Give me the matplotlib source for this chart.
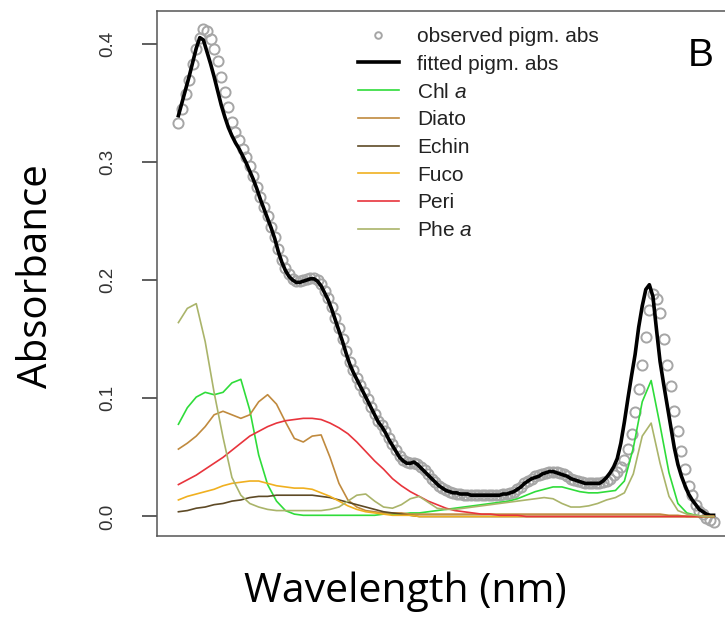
import numpy as np
import matplotlib
matplotlib.use('Agg')
import matplotlib.pyplot as plt

# wavelength grids (nm)
wl_obs = np.arange(400, 701, 2)
wl_pig = np.arange(400, 701, 5)

observed = [0.333, 0.345, 0.357, 0.369, 0.383, 0.395, 0.405, 0.412, 0.411, 0.404,
            0.395, 0.385, 0.372, 0.359, 0.346, 0.334, 0.325, 0.318, 0.311, 0.304,
            0.296, 0.288, 0.279, 0.270, 0.262, 0.254, 0.245, 0.236, 0.226, 0.217,
            0.210, 0.205, 0.201, 0.199, 0.199, 0.200, 0.201, 0.202, 0.202, 0.200,
            0.197, 0.191, 0.185, 0.177, 0.168, 0.159, 0.150, 0.140, 0.131, 0.124,
            0.117, 0.111, 0.105, 0.099, 0.093, 0.087, 0.081, 0.077, 0.072, 0.066,
            0.061, 0.056, 0.051, 0.048, 0.046, 0.045, 0.045, 0.044, 0.042, 0.039,
            0.036, 0.032, 0.029, 0.026, 0.024, 0.022, 0.021, 0.020, 0.019, 0.019,
            0.018, 0.018, 0.018, 0.018, 0.018, 0.018, 0.018, 0.018, 0.018, 0.018,
            0.018, 0.019, 0.019, 0.020, 0.021, 0.023, 0.025, 0.028, 0.030, 0.032,
            0.034, 0.035, 0.036, 0.037, 0.038, 0.038, 0.038, 0.037, 0.036, 0.034,
            0.032, 0.031, 0.030, 0.029, 0.028, 0.028, 0.028, 0.028, 0.028, 0.029,
            0.030, 0.032, 0.035, 0.038, 0.042, 0.048, 0.057, 0.070, 0.088, 0.108,
            0.128, 0.152, 0.175, 0.188, 0.184, 0.172, 0.150, 0.128, 0.110, 0.089,
            0.072, 0.055, 0.040, 0.026, 0.018, 0.010, 0.005, 0.002, -0.001, -0.003,
            -0.005]

fitted = [0.339, 0.350, 0.361, 0.372, 0.384, 0.396, 0.405, 0.403, 0.393, 0.383,
          0.372, 0.360, 0.348, 0.338, 0.329, 0.322, 0.316, 0.311, 0.305, 0.299,
          0.292, 0.285, 0.277, 0.268, 0.260, 0.252, 0.244, 0.235, 0.224, 0.215,
          0.208, 0.203, 0.200, 0.198, 0.198, 0.199, 0.200, 0.201, 0.201, 0.199,
          0.195, 0.189, 0.183, 0.175, 0.166, 0.157, 0.148, 0.138, 0.129, 0.122,
          0.116, 0.110, 0.104, 0.098, 0.092, 0.086, 0.080, 0.076, 0.071, 0.065,
          0.060, 0.055, 0.050, 0.047, 0.045, 0.045, 0.046, 0.044, 0.041, 0.038,
          0.035, 0.032, 0.029, 0.026, 0.024, 0.022, 0.021, 0.020, 0.020, 0.019,
          0.019, 0.019, 0.018, 0.018, 0.018, 0.018, 0.018, 0.018, 0.018, 0.018,
          0.018, 0.019, 0.019, 0.020, 0.021, 0.023, 0.025, 0.028, 0.030, 0.032,
          0.033, 0.034, 0.036, 0.037, 0.038, 0.038, 0.037, 0.036, 0.035, 0.034,
          0.032, 0.031, 0.030, 0.029, 0.028, 0.028, 0.028, 0.028, 0.028, 0.030,
          0.033, 0.037, 0.042, 0.049, 0.062, 0.080, 0.100, 0.119, 0.137, 0.160,
          0.178, 0.192, 0.196, 0.186, 0.158, 0.131, 0.112, 0.094, 0.076, 0.058,
          0.044, 0.034, 0.026, 0.019, 0.014, 0.010, 0.006, 0.004, 0.002, 0.001,
          0.001]

chl_a = [0.078, 0.092, 0.101, 0.105, 0.103, 0.105, 0.113, 0.116, 0.090, 0.052,
         0.027, 0.013, 0.005, 0.002, 0.001, 0.001, 0.001, 0.001, 0.001, 0.001,
         0.001, 0.001, 0.001, 0.002, 0.002, 0.002, 0.003, 0.003, 0.004, 0.005,
         0.006, 0.007, 0.008, 0.009, 0.010, 0.011, 0.012, 0.013, 0.015, 0.018,
         0.021, 0.023, 0.025, 0.025, 0.023, 0.021, 0.020, 0.020, 0.021, 0.022,
         0.030, 0.058, 0.097, 0.115, 0.077, 0.037, 0.011, 0.003, 0.001, 0.000,
         0.000]

diato = [0.057, 0.062, 0.068, 0.076, 0.086, 0.089, 0.086, 0.083, 0.086, 0.097,
         0.103, 0.095, 0.080, 0.066, 0.063, 0.068, 0.069, 0.050, 0.028, 0.014,
         0.008, 0.005, 0.004, 0.003, 0.003, 0.003, 0.002, 0.002, 0.002, 0.002,
         0.002, 0.002, 0.002, 0.002, 0.002, 0.002, 0.002, 0.002, 0.002, 0.002,
         0.002, 0.002, 0.002, 0.002, 0.002, 0.002, 0.002, 0.002, 0.002, 0.002,
         0.002, 0.002, 0.002, 0.002, 0.002, 0.001, 0.001, 0.000, 0.000, 0.000,
         0.000]

echin = [0.004, 0.005, 0.007, 0.008, 0.010, 0.011, 0.013, 0.014, 0.016, 0.017,
         0.017, 0.018, 0.018, 0.018, 0.018, 0.018, 0.017, 0.016, 0.014, 0.012,
         0.010, 0.008, 0.006, 0.004, 0.003, 0.002, 0.001, 0.000, 0.000, 0.000,
         0.000, 0.000, 0.000, 0.000, 0.000, 0.000, 0.000, 0.000, 0.000, 0.000,
         0.000, 0.000, 0.000, 0.000, 0.000, 0.000, 0.000, 0.000, 0.000, 0.000,
         0.000, 0.000, 0.000, 0.000, 0.000, 0.000, 0.000, 0.000, 0.000, 0.000,
         0.000]

fuco = [0.014, 0.017, 0.019, 0.021, 0.023, 0.026, 0.028, 0.029, 0.030, 0.030,
        0.028, 0.026, 0.025, 0.024, 0.024, 0.023, 0.020, 0.017, 0.013, 0.009,
        0.006, 0.004, 0.003, 0.002, 0.001, 0.001, 0.001, 0.000, 0.000, 0.000,
        0.000, 0.000, 0.000, 0.000, 0.000, 0.000, 0.000, 0.000, 0.000, 0.000,
        0.000, 0.000, 0.000, 0.000, 0.000, 0.000, 0.000, 0.000, 0.000, 0.000,
        0.000, 0.000, 0.000, 0.000, 0.000, 0.000, 0.000, 0.000, 0.000, 0.000,
        0.000]

peri = [0.027, 0.031, 0.035, 0.040, 0.045, 0.050, 0.056, 0.062, 0.068, 0.072,
        0.076, 0.079, 0.081, 0.082, 0.083, 0.083, 0.082, 0.079, 0.075, 0.070,
        0.063, 0.055, 0.047, 0.040, 0.032, 0.026, 0.021, 0.017, 0.013, 0.010,
        0.007, 0.005, 0.004, 0.003, 0.002, 0.002, 0.001, 0.001, 0.001, 0.000,
        0.000, 0.000, 0.000, 0.000, 0.000, 0.000, 0.000, 0.000, 0.000, 0.000,
        0.000, 0.000, 0.000, 0.000, 0.000, 0.000, 0.000, 0.000, 0.000, 0.000,
        0.000]

phe_a = [0.164, 0.176, 0.180, 0.148, 0.105, 0.067, 0.033, 0.018, 0.011, 0.008,
         0.006, 0.005, 0.005, 0.005, 0.005, 0.005, 0.005, 0.006, 0.008, 0.013,
         0.018, 0.019, 0.013, 0.008, 0.007, 0.010, 0.015, 0.017, 0.012, 0.007,
         0.006, 0.006, 0.007, 0.008, 0.009, 0.010, 0.011, 0.012, 0.013, 0.014,
         0.015, 0.016, 0.015, 0.011, 0.008, 0.008, 0.009, 0.011, 0.014, 0.016,
         0.020, 0.036, 0.068, 0.079, 0.045, 0.017, 0.005, 0.002, 0.001, 0.000,
         0.000]

pigments = [('Chl $\\it{a}$', chl_a, '#2fdc3a'),
            ('Diato', diato, '#c08a3e'),
            ('Echin', echin, '#5e4a26'),
            ('Fuco', fuco, '#f0b020'),
            ('Peri', peri, '#e8343c'),
            ('Phe $\\it{a}$', phe_a, '#aab46a')]

plt.rcParams['font.family'] = 'Liberation Sans'
plt.rcParams['mathtext.fontset'] = 'custom'
plt.rcParams['mathtext.it'] = 'Liberation Sans:italic'
plt.rcParams['mathtext.rm'] = 'Liberation Sans'

fig = plt.figure(figsize=(7.25, 6.18), dpi=100)
ax = fig.add_axes((157/725, 82/618, 578/725, 525/618))

ax.plot(wl_obs, observed, 'o', ms=7.3, mfc='none', mec='#a6a6a6', mew=1.4,
        label='observed pigm. abs', zorder=2)
ax.plot(wl_obs, fitted, color='black', lw=2.6, label='fitted pigm. abs', zorder=3)
for name, vals, col in pigments:
    ax.plot(wl_pig, vals, color=col, lw=1.2, label=name, zorder=4)

ax.set_xlim(388, 712)
ax.set_ylim(-0.0165, 0.4275)
ax.set_xticks([])
ax.set_yticks([0.0, 0.1, 0.2, 0.3, 0.4])
ax.set_yticklabels(['0.0', '0.1', '0.2', '0.3', '0.4'], rotation=90, va='center')
ax.tick_params(axis='y', direction='out', length=11, width=1.1, color='#333333',
               labelsize=13.5, labelcolor='#333333', pad=18)
for sp in ax.spines.values():
    sp.set_color('#555555')
    sp.set_linewidth(1.1)

leg = ax.legend(loc='upper left', bbox_to_anchor=(358/725, 1 - 27/618),
                bbox_transform=fig.transFigure, frameon=False, fontsize=15,
                handlelength=1.95, handletextpad=0.9, labelspacing=0.42,
                borderpad=0, borderaxespad=0, markerscale=0.65)
for t in leg.get_texts():
    t.set_color('#222222')

fig.text(701/725, 1 - 56/618, 'B', fontsize=28, ha='center', va='center')

fig.text(37/725, 1 - 276/618, 'Absorbance', fontsize=29, family='Open Sans',
         rotation=90, ha='center', va='center')
fig.text(405/725, 1 - 592/618, 'Wavelength (nm)', fontsize=29.5, family='Open Sans',
         ha='center', va='center')

fig.savefig('out.png', dpi=100)
